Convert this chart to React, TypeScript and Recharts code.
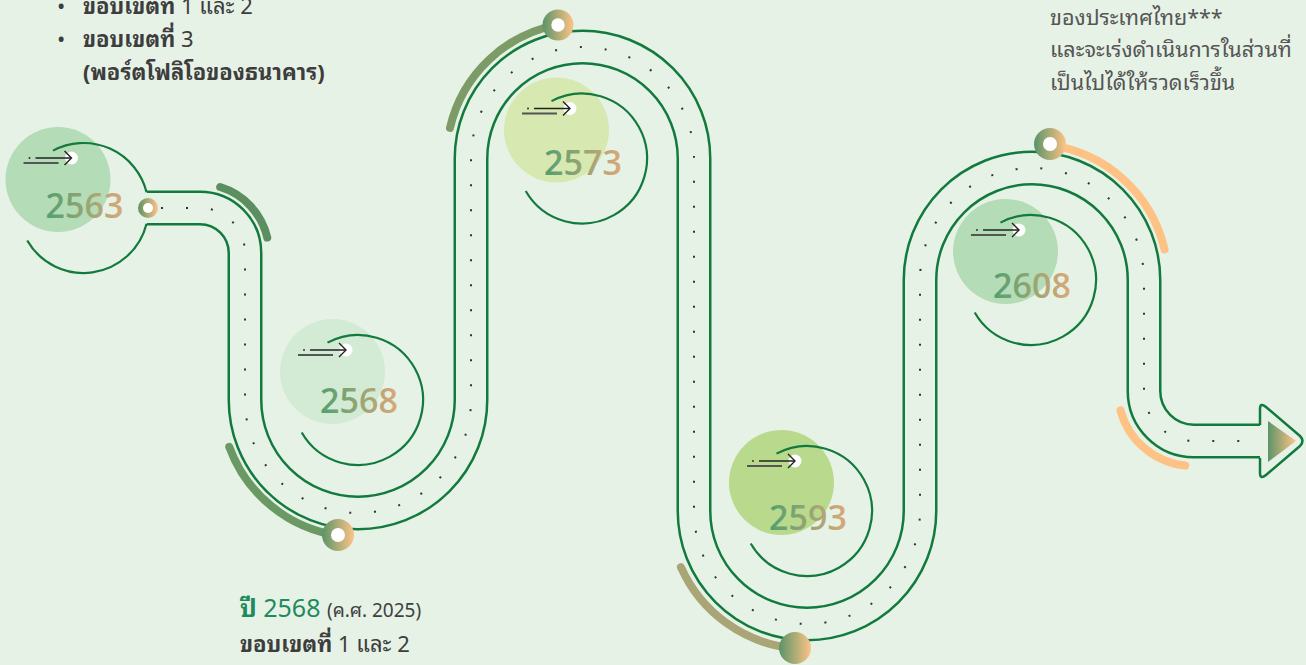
import React from 'react';
import { ComposedChart, XAxis, YAxis, Line, Scatter } from 'recharts';

const W = 1306;
const H = 665;
const BG = '#e6f2e6';
const ROAD = '#137a3e';
const THAI = "Tahoma, 'Noto Sans Thai Looped', 'Noto Looped Thai', Loma, Garuda, Kinnari, 'Noto Sans Thai', sans-serif";

// Road centre-line corner points (chart units) and the corner radius used at each point
const roadX = [147, 245, 245, 471, 471, 694, 694, 920, 920, 1144, 1144, 1262];
const roadY = [208, 208, 513, 513, 47, 47, 624, 624, 168, 168, 441, 441];
const roadR = [0, 45, 113, 113, 111.5, 111.5, 113, 113, 112, 112, 50, 0];

// Milestones
const years = ['2563', '2568', '2573', '2593', '2608'];
const milestoneX = [83.5, 358, 582, 807, 1031];
const milestoneY = [208, 400, 158.5, 511, 280];
const bubbleFill = ['#b4dcb6', '#d3ead5', '#d7e8b0', '#b9da8c', '#b4dcb6'];
const ringGap = [14, 0, 0, 0, 0];
const yearDy = [10, 13, 16, 19, 18];

// Accent arcs beside the road
const accentX = [200, 358, 582.5, 807, 1032, 1193];
const accentY = [253, 400, 158.5, 511, 280, 391];
const accentR = [69, 137, 136, 138, 136, 75];
const accentFrom = [-73, 98, -167, 95, -83, 96];
const accentTo = [-13, 160, -100, 156, -13, 165];
const accentColor = ['#5b8f5f', '#6b9964', '#7d9b66', '#a9a577', '#ffc285', '#ffc285'];

// Milestone nodes on the road
const nodeX = [148, 338, 558, 795, 1050];
const nodeY = [208, 535, 25, 648, 144];
const nodeR = [10, 16, 15.5, 16, 16];
const nodeHole = [5, 7, 6.7, 0, 7];

// Arrow head at the end of the road
const arrowX = [1262];
const arrowY = [441];

const roadData = roadX.map((x, i) => ({ x, y: roadY[i] }));
const milestoneData = years.map((year, i) => ({
  x: milestoneX[i], y: milestoneY[i], year, fill: bubbleFill[i], gap: ringGap[i], dy: yearDy[i],
}));
const accentData = accentX.map((x, i) => ({
  x, y: accentY[i], r: accentR[i], a0: accentFrom[i], a1: accentTo[i], color: accentColor[i],
}));
const nodeData = nodeX.map((x, i) => ({ x, y: nodeY[i], r: nodeR[i], hole: nodeHole[i] }));
const arrowData = arrowX.map((x, i) => ({ x, y: arrowY[i] }));

const PX = 1; // pixels per chart unit (domain equals the pixel size)

const roundedCurve = (context: any) => {
  let pts: number[][] = [];
  return {
    areaStart() {},
    areaEnd() {},
    lineStart() { pts = []; },
    point(x: number, y: number) { pts.push([x, y]); },
    lineEnd() {
      if (!pts.length) return;
      context.moveTo(pts[0][0], pts[0][1]);
      for (let i = 1; i < pts.length - 1; i++) {
        context.arcTo(pts[i][0], pts[i][1], pts[i + 1][0], pts[i + 1][1], roadR[i] * PX);
      }
      const l = pts[pts.length - 1];
      context.lineTo(l[0], l[1]);
    },
  };
};

const arcPath = (cx: number, cy: number, r: number, a0: number, a1: number) => {
  const k = Math.PI / 180;
  const x0 = cx + r * Math.cos(a0 * k);
  const y0 = cy + r * Math.sin(a0 * k);
  const x1 = cx + r * Math.cos(a1 * k);
  const y1 = cy + r * Math.sin(a1 * k);
  const large = a1 - a0 > 180 ? 1 : 0;
  return `M${x0},${y0} A${r},${r} 0 ${large} 1 ${x1},${y1}`;
};

const MilestoneShape = (p: any) => {
  const { cx, cy, payload } = p;
  const R = 65 * PX;
  const g = payload.gap;
  const paths = g ? [arcPath(cx, cy, R, -118, -g), arcPath(cx, cy, R, g, 150)] : [arcPath(cx, cy, R, -118, 150)];
  return (
    <g>
      <circle cx={cx - 25.5 * PX} cy={cy - 28.5 * PX} r={52.5 * PX} fill={payload.fill} />
      {paths.map((d, i) => (
        <path key={i} d={d} fill="none" stroke={ROAD} strokeWidth={2.2} />
      ))}
      <text x={cx + 1} y={cy + payload.dy * PX} textAnchor="middle" fontFamily="'Open Sans', sans-serif"
        fontWeight={600} fontSize={34} fill="url(#yearGrad)">{payload.year}</text>
      <circle cx={cx - 12} cy={cy - 50} r={6.5} fill="#ffffff" />
      <line x1={cx - 60} y1={cy - 45} x2={cx - 25} y2={cy - 45} stroke="#555" strokeWidth={2} />
      <line x1={cx - 48} y1={cy - 50} x2={cx - 12.5} y2={cy - 50} stroke="#222" strokeWidth={1.4} />
      <polyline points={`${cx - 19},${cy - 57} ${cx - 12},${cy - 50} ${cx - 19},${cy - 43}`} fill="none" stroke="#222" strokeWidth={1.4} />
      <circle cx={cx - 54} cy={cy - 50} r={1} fill="#333" />
    </g>
  );
};

const AccentShape = (p: any) => {
  const { cx, cy, payload } = p;
  return (
    <path d={arcPath(cx, cy, payload.r * PX, payload.a0, payload.a1)} fill="none" stroke={payload.color}
      strokeWidth={8} strokeLinecap="round" />
  );
};

const NodeShape = (p: any) => {
  const { cx, cy, payload } = p;
  return (
    <g>
      <circle cx={cx} cy={cy} r={payload.r} fill="url(#nodeGrad)" />
      {payload.hole > 0 && <circle cx={cx} cy={cy} r={payload.hole} fill="#ffffff" />}
    </g>
  );
};

const ArrowShape = (p: any) => {
  const { cx, cy } = p;
  const x = cx - 2;
  const d = `M${x},${cy - 16} L${x},${cy - 32} Q${x},${cy - 39} ${x + 6},${cy - 34} L${x + 40},${cy - 5} Q${x + 45},${cy} ${x + 40},${cy + 5} L${x + 6},${cy + 34} Q${x},${cy + 39} ${x},${cy + 32} L${x},${cy + 17}`;
  return (
    <g>
      <path d={d} fill={BG} stroke={ROAD} strokeWidth={2.5} strokeLinejoin="round" />
      <polygon points={`${x + 8},${cy - 20} ${x + 36},${cy} ${x + 8},${cy + 21}`} fill="url(#arrowGrad)" />
    </g>
  );
};

export default function App() {
  return (
    <div style={{ position: 'absolute', left: 0, top: 0, width: W, height: H, background: BG, overflow: 'hidden' }}>
      <svg width={0} height={0} style={{ position: 'absolute' }}>
        <defs>
          <linearGradient id="yearGrad" x1="0" x2="1" y1="0" y2="0">
            <stop offset="0" stopColor="#50a070" />
            <stop offset="1" stopColor="#dca877" />
          </linearGradient>
          <linearGradient id="nodeGrad" x1="0" x2="1" y1="0" y2="0">
            <stop offset="0" stopColor="#5a9467" />
            <stop offset="1" stopColor="#ffc387" />
          </linearGradient>
          <linearGradient id="arrowGrad" x1="0" x2="1" y1="0" y2="0">
            <stop offset="0" stopColor="#5e9468" />
            <stop offset="1" stopColor="#ffc387" />
          </linearGradient>
        </defs>
      </svg>
      <ComposedChart width={W} height={H} margin={{ top: 0, right: 0, bottom: 0, left: 0 }}>
        <XAxis type="number" dataKey="x" domain={[0, W]} hide allowDataOverflow />
        <YAxis type="number" dataKey="y" domain={[0, H]} reversed hide allowDataOverflow />
        <Scatter data={milestoneData} shape={MilestoneShape} isAnimationActive={false} />
        <Line data={roadData} dataKey="y" type={roundedCurve as any} stroke={ROAD} strokeWidth={35}
          dot={false} activeDot={false} isAnimationActive={false} />
        <Line data={roadData} dataKey="y" type={roundedCurve as any} stroke={BG} strokeWidth={30}
          dot={false} activeDot={false} isAnimationActive={false} />
        <Line data={roadData} dataKey="y" type={roundedCurve as any} stroke="#333" strokeWidth={2}
          strokeDasharray="2 23" strokeDashoffset={-14} dot={false} activeDot={false} isAnimationActive={false} />
        <Scatter data={arrowData} shape={ArrowShape} isAnimationActive={false} />
        <Scatter data={accentData} shape={AccentShape} isAnimationActive={false} />
        <Scatter data={nodeData} shape={NodeShape} isAnimationActive={false} />
      </ComposedChart>
      <svg width={W} height={H} style={{ position: 'absolute', left: 0, top: 0, pointerEvents: 'none' }}
        fontFamily={THAI}>
        <g fill="#3d3d3d" fontSize={22}>
          <text x={57} y={14}>•</text>
          <text x={83} y={14}><tspan fontWeight="bold">ขอบเขตที่</tspan> 1 และ 2</text>
          <text x={57} y={47}>•</text>
          <text x={83} y={47}><tspan fontWeight="bold">ขอบเขตที่</tspan> 3</text>
          <text x={83} y={80} fontWeight="bold">(พอร์ตโฟลิโอของธนาคาร)</text>
        </g>
        <g fill="#555555" fontSize={21.5}>
          <text x={1050} y={25}>ของประเทศไทย***</text>
          <text x={1050} y={57}>และจะเร่งดำเนินการในส่วนที่</text>
          <text x={1050} y={90}>เป็นไปได้ให้รวดเร็วขึ้น</text>
        </g>
        <text x={240} y={617} fontSize={25} fill="#1f8a5c">
          <tspan fontWeight="bold">ปี</tspan> 2568 <tspan fontSize={19} fill="#404040">(ค.ศ. 2025)</tspan>
        </text>
        <text x={240} y={652} fontSize={22} fill="#3d3d3d">
          <tspan fontWeight="bold">ขอบเขตที่</tspan> 1 และ 2
        </text>
      </svg>
    </div>
  );
}
